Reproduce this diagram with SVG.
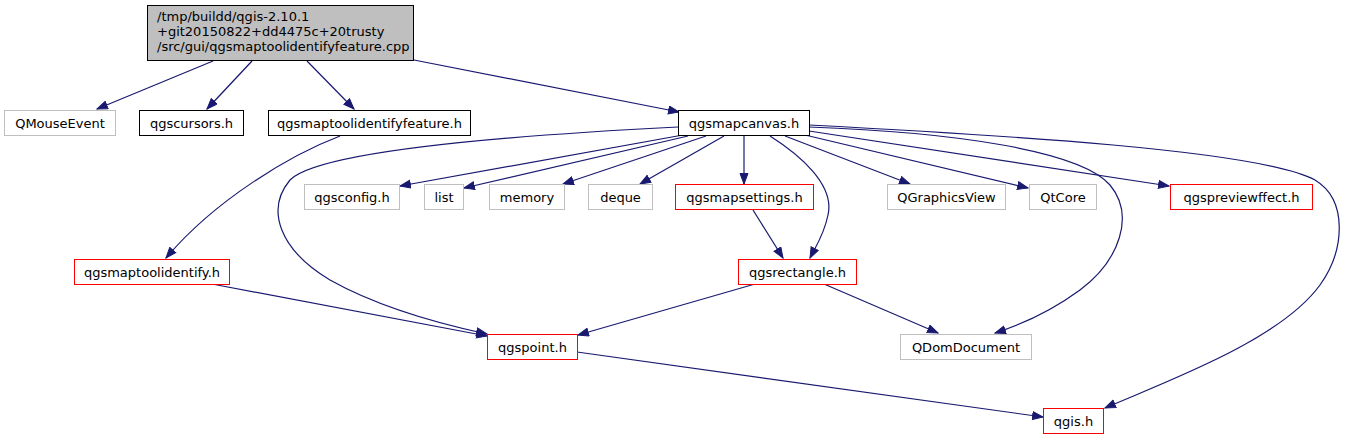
<svg xmlns="http://www.w3.org/2000/svg" width="1347" height="440" viewBox="0 0 1347 440">
<style>
  rect { stroke-width: 1; }
  .root rect { fill: #bfbfbf; stroke: #000000; }
  .local rect { fill: #ffffff; stroke: #000000; }
  .ext rect { fill: #ffffff; stroke: #bfbfbf; }
  .red rect { fill: #ffffff; stroke: #ff0000; }
  text { font-family: "DejaVu Sans", "Liberation Sans", sans-serif; font-size: 13px; fill: #000000; }
  .c { text-anchor: middle; }
  #edges path { fill: none; stroke: #191970; stroke-width: 1.2; marker-end: url(#arr); }
</style>
<defs>
  <marker id="arr" markerUnits="userSpaceOnUse" markerWidth="12" markerHeight="10" refX="11" refY="4.5" orient="auto">
    <path d="M0.5,0.5 L11,4.5 L0.5,8.5 z" fill="#191970" stroke="#191970" stroke-width="1"/>
  </marker>
</defs>
<rect width="1347" height="440" fill="#ffffff"/>
<g id="edges">
  <path d="M213,61 L97,109"/>
  <path d="M252,61 L207,109"/>
  <path d="M307,61 L354,109"/>
  <path d="M414,60 L679,112"/>
  <path d="M340,136 C290,155 215,200 166,258"/>
  <path d="M212,284 L487,336"/>
  <path d="M678,127 C520,135 320,150 290,180 C265,210 280,250 330,280 C380,308 445,325 487,334"/>
  <path d="M683,135 L400,186"/>
  <path d="M688,136 L464,188"/>
  <path d="M706,136 L563,184"/>
  <path d="M724,136 L640,184"/>
  <path d="M744,136 L744,184"/>
  <path d="M770,136 C800,155 835,185 828,215 C824,235 815,248 810,258"/>
  <path d="M753,210 L783,258"/>
  <path d="M785,136 L910,184"/>
  <path d="M805,135 L1028,188"/>
  <path d="M809,131 L1169,186"/>
  <path d="M809,127 C950,132 1080,150 1110,185 C1135,215 1120,260 1080,290 C1050,312 1020,325 995,333"/>
  <path d="M809,125 C1000,135 1260,150 1315,180 C1348,200 1345,250 1320,285 C1280,340 1170,380 1105,408"/>
  <path d="M755,284 L578,335"/>
  <path d="M824,284 L938,333"/>
  <path d="M577,352 L1043,417"/>
</g>
<g id="root" class="root">
  <rect x="147.5" y="5.5" width="266" height="55"/>
  <text x="157" y="21">/tmp/buildd/qgis-2.10.1</text>
  <text x="157" y="36">+git20150822+dd4475c+20trusty</text>
  <text x="157" y="51">/src/gui/qgsmaptoolidentifyfeature.cpp</text>
</g>
<g id="QMouseEvent" class="ext">
  <rect x="4.5" y="110.5" width="111" height="25"/>
  <text class="c" x="60" y="127.5">QMouseEvent</text>
</g>
<g id="qgscursors" class="local">
  <rect x="139.5" y="110.5" width="104" height="25"/>
  <text class="c" x="191.5" y="127.5">qgscursors.h</text>
</g>
<g id="qgsmaptoolidentifyfeature" class="local">
  <rect x="268.5" y="110.5" width="202" height="25"/>
  <text class="c" x="369.5" y="127.5">qgsmaptoolidentifyfeature.h</text>
</g>
<g id="qgsmapcanvas" class="local">
  <rect x="678.5" y="110.5" width="131" height="25"/>
  <text class="c" x="744" y="127.5">qgsmapcanvas.h</text>
</g>
<g id="qgsconfig" class="ext">
  <rect x="304.5" y="184.5" width="95" height="25"/>
  <text class="c" x="352" y="201.5">qgsconfig.h</text>
</g>
<g id="list" class="ext">
  <rect x="424.5" y="184.5" width="39" height="25"/>
  <text class="c" x="444" y="201.5">list</text>
</g>
<g id="memory" class="ext">
  <rect x="489.5" y="184.5" width="75" height="25"/>
  <text class="c" x="527" y="201.5">memory</text>
</g>
<g id="deque" class="ext">
  <rect x="588.5" y="184.5" width="64" height="25"/>
  <text class="c" x="620.5" y="201.5">deque</text>
</g>
<g id="qgsmapsettings" class="red">
  <rect x="675.5" y="184.5" width="138" height="25"/>
  <text class="c" x="744.5" y="201.5">qgsmapsettings.h</text>
</g>
<g id="QGraphicsView" class="ext">
  <rect x="887.5" y="184.5" width="118" height="25"/>
  <text class="c" x="946.5" y="201.5">QGraphicsView</text>
</g>
<g id="QtCore" class="ext">
  <rect x="1029.5" y="184.5" width="67" height="25"/>
  <text class="c" x="1063" y="201.5">QtCore</text>
</g>
<g id="qgspreviewffect" class="red">
  <rect x="1170.5" y="184.5" width="142" height="25"/>
  <text class="c" x="1241.5" y="201.5">qgspreviewffect.h</text>
</g>
<g id="qgsmaptoolidentify" class="red">
  <rect x="74.5" y="259.5" width="155" height="25"/>
  <text class="c" x="152" y="276.5">qgsmaptoolidentify.h</text>
</g>
<g id="qgsrectangle" class="red">
  <rect x="738.5" y="259.5" width="118" height="25"/>
  <text class="c" x="797.5" y="276.5">qgsrectangle.h</text>
</g>
<g id="qgspoint" class="red">
  <rect x="487.5" y="334.5" width="90" height="25"/>
  <text class="c" x="532.5" y="351.5">qgspoint.h</text>
</g>
<g id="QDomDocument" class="ext">
  <rect x="900.5" y="334.5" width="131" height="25"/>
  <text class="c" x="966" y="351.5">QDomDocument</text>
</g>
<g id="qgis" class="red">
  <rect x="1043.5" y="408.5" width="60" height="25"/>
  <text class="c" x="1073.5" y="425.5">qgis.h</text>
</g>
</svg>
